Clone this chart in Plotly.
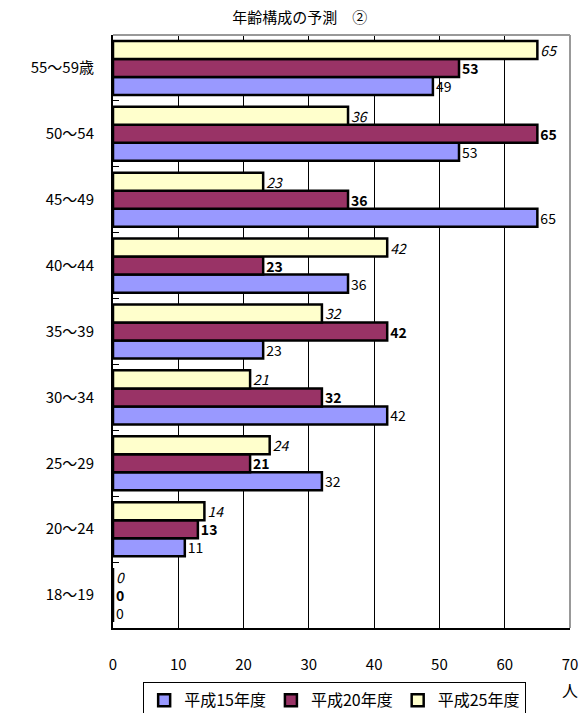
import plotly.graph_objects as go

categories = ["18〜19", "20〜24", "25〜29", "30〜34", "35〜39", "40〜44", "45〜49", "50〜54", "55〜59歳"]
h15 = [0, 11, 32, 42, 23, 36, 65, 53, 49]
h20 = [0, 13, 21, 32, 42, 23, 36, 65, 53]
h25 = [0, 14, 24, 21, 32, 42, 23, 36, 65]
series_names = ["平成15年度", "平成20年度", "平成25年度"]
x_ticks = [0, 10, 20, 30, 40, 50, 60, 70]

FONT = "Noto Sans CJK JP, sans-serif"

fig = go.Figure()
styles = [
    ("#9999FF", "%{x}"),
    ("#993366", "<b>%{x}</b>"),
    ("#FFFFCC", "<i>%{x}</i>"),
]
for name, vals, (col, tmpl) in zip(series_names, [h15, h20, h25], styles):
    fig.add_trace(go.Bar(
        y=categories, x=vals, name=name, orientation="h",
        marker=dict(color=col, line=dict(color="black", width=2.5)),
        texttemplate=tmpl, textposition="outside", constraintext="none",
        textfont=dict(family=FONT, size=14, color="black"),
        cliponaxis=False,
    ))

fig.update_layout(
    width=582, height=713,
    margin=dict(l=113, r=12, t=35, b=85, autoexpand=False),
    paper_bgcolor="white", plot_bgcolor="white",
    barmode="group", bargap=0.18, bargroupgap=0,
    font=dict(family=FONT, size=14, color="black"),
    title=dict(text="年齢構成の予測　②", x=0.515, xanchor="center", y=0.975, yanchor="middle",
               font=dict(family=FONT, size=15, color="black")),
    showlegend=True,
    legend=dict(orientation="h", x=0.575, xanchor="center", xref="container",
                y=0.043, yanchor="top", yref="container",
                bordercolor="black", borderwidth=1, traceorder="normal",
                font=dict(family=FONT, size=16, color="black"),
                itemwidth=30, tracegroupgap=0),
)
fig.update_xaxes(range=[0, 70], tickvals=x_ticks, showgrid=True, gridcolor="black", gridwidth=1,
                 showline=True, linecolor="black", linewidth=2, ticks="", zeroline=False,
                 ticklabelstandoff=22, tickfont=dict(size=15), automargin=False)
fig.update_yaxes(showgrid=False, showline=True, linecolor="black", linewidth=2,
                 ticks="inside", tickson="boundaries", ticklen=6, tickcolor="black",
                 ticklabelstandoff=14, tickfont=dict(size=15), automargin=False)
fig.add_shape(type="line", xref="paper", yref="paper", x0=0, x1=1, y0=1, y1=1,
              line=dict(color="#999999", width=2))
fig.add_shape(type="line", xref="paper", yref="paper", x0=1, x1=1, y0=0, y1=1,
              line=dict(color="#999999", width=2))
fig.add_annotation(text="人", xref="paper", yref="paper", x=1.0, y=-0.105, showarrow=False,
                   xanchor="center", yanchor="middle", font=dict(family=FONT, size=16, color="black"))

fig.write_html("out.html")
